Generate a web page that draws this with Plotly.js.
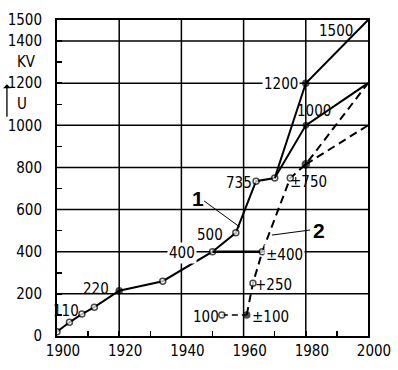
<!DOCTYPE html>
<html>
<head>
<meta charset="utf-8">
<script src="https://cdn.plot.ly/plotly-3.0.1.min.js"></script>
<style>html,body{margin:0;padding:0;background:#fff;}#chart{width:398px;height:370px;}</style>
</head>
<body>
<div id="chart"></div>
<script>
// Series 1 (AC, solid)
const years1 = [1900, 1904, 1908, 1912, 1920, 1934, 1950, 1957.5, 1964, 1970, 1980, 2000];
const kv1    = [20,   65,   104,  137,  215,  260,  400,  490,    735,  750,  1200, 1500];
const years1b = [1970, 1980, 2000];
const kv1b    = [750,  1000, 1200];
// Series 2 (DC, dashed)
const years2a = [1953, 1961];
const kv2a    = [100,  100];
const years2 = [1961, 1963, 1966, 1975, 1980, 2000];
const kv2    = [100,  250,  400,  750,  815,  1200];
const years2b = [1980, 2000];
const kv2b    = [815,  1000];
// level connector at 400 kV
const yearsL = [1950, 1966];
const kvL    = [400,  400];

const yTickVals = [0, 200, 400, 600, 800, 1000, 1200, 1400, 1500];
const yTickText = ['0', '200', '400', '600', '800', '1000', '1200', '1400', '1500'];
const yMinor = [100, 300, 500, 700, 900, 1100, 1300];
const xTickVals = [1900, 1920, 1940, 1960, 1980, 2000];
const xTickText = ['1900', '1920', '1940', '1960', '1980', '2000'];
const xMinor = [1910, 1930, 1950, 1970, 1990];
const yGrid = [200, 400, 600, 800, 1000, 1200, 1400];
const xGrid = [1920, 1940, 1960, 1980];

const FONT = '"Liberation Sans Narrow", "DejaVu Sans Condensed", "Arial Narrow", sans-serif';

const openMarker = {symbol: 'circle', size: 6, color: 'white', line: {color: 'black', width: 1.5}};

const traces = [
  {x: years1, y: kv1, mode: 'lines+markers', line: {color: 'black', width: 2},
   marker: {symbol: 'circle', size: [6,6,6,6,6,6,6,6,6,6,6,0], color: ['white','white','white','white','black','white','white','white','white','white','black','black'], line: {color: 'black', width: 1.5}}},
  {x: years1b, y: kv1b, mode: 'lines+markers', line: {color: 'black', width: 2},
   marker: {symbol: 'circle', size: [0, 6, 0], color: 'black', line: {color: 'black', width: 1}}},
  {x: yearsL, y: kvL, mode: 'lines', line: {color: 'black', width: 2.5}},
  {x: years2a, y: kv2a, mode: 'lines+markers', line: {color: 'black', width: 1.5, dash: '6px,4px'},
   marker: {symbol: 'circle', size: [6, 0], color: 'white', line: {color: 'black', width: 1.5}}},
  {x: years2, y: kv2, mode: 'lines+markers', line: {color: 'black', width: 2, dash: '8px,5px'},
   marker: {symbol: 'circle', size: [6,6,6,6,7,0], color: ['black','white','white','white','black','black'], line: {color: 'black', width: 1.5}}},
  {x: years2b, y: kv2b, mode: 'lines', line: {color: 'black', width: 2, dash: '8px,5px'}}
];

const shapes = [];
yGrid.forEach(v => shapes.push({type: 'line', xref: 'x', yref: 'y', x0: 1900, x1: 2000, y0: v, y1: v, line: {color: 'black', width: 1.5}, layer: 'below'}));
xGrid.forEach(v => shapes.push({type: 'line', xref: 'x', yref: 'y', x0: v, x1: v, y0: 0, y1: 1500, line: {color: 'black', width: 1.5}, layer: 'below'}));
// leader lines for labels 1 and 2
shapes.push({type: 'line', xref: 'x', yref: 'y', x0: 1947.3, y0: 641, x1: 1958.8, y1: 517, line: {color: 'black', width: 1}});
shapes.push({type: 'line', xref: 'x', yref: 'y', x0: 1981.4, y0: 503, x1: 1969.1, y1: 479, line: {color: 'black', width: 1}});

function lab(x, y, t, opts) {
  return Object.assign({x: x, y: y, xref: 'x', yref: 'y', text: t, showarrow: false,
    font: {family: FONT, size: 15, color: 'black'}, xanchor: 'center', yanchor: 'middle'}, opts || {});
}

const annotations = [
  lab(1902.9, 119, '110'),
  lab(1912.5, 225, '220'),
  lab(1940.2, 392, '400', {bgcolor: 'white'}),
  lab(1949.2, 480, '500'),
  lab(1958.5, 727, '735'),
  lab(1972, 1195, '1200', {bgcolor: 'white'}),
  lab(1982.6, 1068, '1000'),
  lab(1989.7, 1448, '1500'),
  lab(1980.8, 731, '±750'),
  lab(1973, 385, '±400', {bgcolor: 'white'}),
  lab(1969.5, 240, '+250'),
  lab(1968.5, 92, '±100'),
  lab(1947.9, 92, '100'),
  lab(1945.3, 655, '<b>1</b>', {font: {family: 'Liberation Sans, Arial, sans-serif', size: 21, color: 'black'}}),
  lab(1984.4, 503, '<b>2</b>', {font: {family: 'Liberation Sans, Arial, sans-serif', size: 21, color: 'black'}}),
  {x: -0.06, y: 1300, xref: 'paper', yref: 'y', text: 'KV', showarrow: false, xanchor: 'right', yanchor: 'middle',
   font: {family: FONT, size: 15, color: 'black'}},
  {x: -0.112, y: 1100, xref: 'paper', yref: 'y', text: 'U', showarrow: false, xanchor: 'center', yanchor: 'middle',
   font: {family: FONT, size: 15, color: 'black'}},
  {x: -0.161, y: 1195, xref: 'paper', yref: 'y', text: '', showarrow: true, ax: 0, ay: 34, arrowhead: 1,
   arrowsize: 1, arrowwidth: 1.3, arrowcolor: 'black'}
];

const layout = {
  width: 398, height: 370,
  margin: {l: 57, r: 30, t: 20, b: 34},
  paper_bgcolor: 'white', plot_bgcolor: 'white',
  showlegend: false,
  font: {family: FONT, size: 15, color: 'black'},
  xaxis: {
    range: [1900, 2000], tickmode: 'array', tickvals: xTickVals, ticktext: xTickText,
    showgrid: false, zeroline: false, showline: true, mirror: true, linecolor: 'black', linewidth: 2,
    ticks: 'inside', ticklen: 5, tickwidth: 1.5, tickcolor: 'black', ticklabelshift: 6, ticklabelstandoff: 0,
    tickfont: {family: FONT, size: 15, color: 'black'},
    minor: {tickvals: xMinor, ticks: 'inside', ticklen: 5, tickwidth: 1.5, tickcolor: 'black', showgrid: false}
  },
  yaxis: {
    range: [0, 1500], tickmode: 'array', tickvals: yTickVals, ticktext: yTickText,
    showgrid: false, zeroline: false, showline: true, mirror: true, linecolor: 'black', linewidth: 2,
    ticks: 'inside', ticklen: 5, tickwidth: 1.5, tickcolor: 'black', ticklabelstandoff: 10,
    tickfont: {family: FONT, size: 15, color: 'black'},
    minor: {tickvals: yMinor, ticks: 'inside', ticklen: 5, tickwidth: 1.5, tickcolor: 'black', showgrid: false}
  },
  shapes: shapes,
  annotations: annotations
};

Plotly.newPlot('chart', traces, layout, {staticPlot: true, displayModeBar: false});
</script>
</body>
</html>
